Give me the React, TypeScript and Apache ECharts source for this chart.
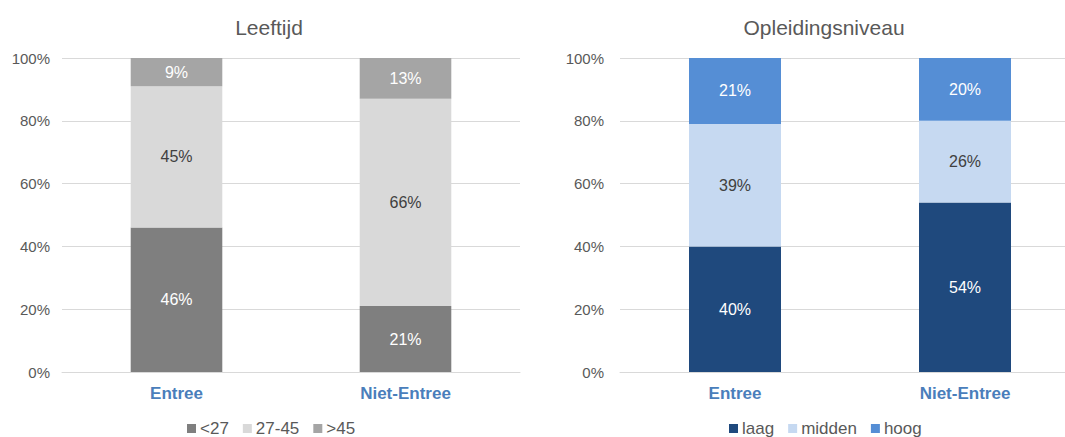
import React, { useEffect, useRef } from "react";
import * as echarts from "echarts";

const categories = ["Entree", "Niet-Entree"];
const yTicks = [0, 20, 40, 60, 80, 100];

const ageNames = ["<27", "27-45", ">45"];
const ageUnder27 = [46, 21];
const age27to45 = [45, 66];
const ageOver45 = [9, 13];

const eduNames = ["laag", "midden", "hoog"];
const eduLaag = [40, 54];
const eduMidden = [39, 26];
const eduHoog = [21, 20];

const ageColors = ["#7f7f7f", "#d9d9d9", "#a5a5a5"];
const eduColors = ["#1f497d", "#c6d9f1", "#558ed5"];
const labelColors = ["#ffffff", "#404040", "#ffffff"];

export default function App() {
  const ref = useRef<HTMLDivElement>(null);
  useEffect(() => {
    if (!ref.current) return;
    const chart = echarts.init(ref.current, null, { renderer: "svg" });
    const font = "'Liberation Sans', Arial, sans-serif";
    const mkX = (gi: number) => ({
      type: "category",
      gridIndex: gi,
      data: categories,
      axisTick: { show: false },
      axisLine: { show: true, lineStyle: { color: "#d9d9d9", width: 1 } },
      axisLabel: {
        color: "#4a7ebb",
        fontWeight: "bold",
        fontSize: 17,
        fontFamily: font,
        margin: 13,
      },
    });
    const mkY = (gi: number) => ({
      type: "value",
      gridIndex: gi,
      min: 0,
      max: 100,
      interval: 20,
      axisLine: { show: false },
      axisTick: { show: false },
      splitLine: { lineStyle: { color: "#d9d9d9", width: 1 } },
      axisLabel: {
        color: "#595959",
        fontSize: 15,
        fontFamily: font,
        margin: gi === 0 ? 12 : 16,
        formatter: (v: number) => (yTicks.includes(v) ? v + "%" : ""),
      },
    });
    const mkSeries = (
      name: string,
      data: number[],
      gi: number,
      color: string,
      labelColor: string
    ) => ({
      type: "bar",
      name,
      data,
      xAxisIndex: gi,
      yAxisIndex: gi,
      stack: "s" + gi,
      barWidth: "40%",
      itemStyle: { color },
      label: {
        show: true,
        position: "inside",
        color: labelColor,
        fontSize: 16,
        fontFamily: font,
        formatter: (p: any) => p.value + "%",
      },
    });
    const legendBase = {
      top: 420,
      padding: 0,
      itemWidth: 9,
      itemHeight: 9,
      itemGap: 14,
      icon: "rect",
      textStyle: { color: "#595959", fontSize: 17, fontFamily: font, padding: [0, 0, 0, -1] },
    };
    const titleStyle = { color: "#595959", fontSize: 21, fontWeight: "normal", fontFamily: font };
    const ageData = [ageUnder27, age27to45, ageOver45];
    const eduData = [eduLaag, eduMidden, eduHoog];
    chart.setOption({
      animation: false,
      title: [
        { text: "Leeftijd", left: 264, top: 12, textAlign: "center", textStyle: titleStyle },
        { text: "Opleidingsniveau", left: 819, top: 12, textAlign: "center", textStyle: titleStyle },
      ],
      legend: [
        { ...legendBase, data: ageNames, left: 187 },
        { ...legendBase, data: eduNames, left: 729 },
      ],
      grid: [
        { left: 62, top: 58, width: 458, height: 314 },
        { left: 620, top: 58, width: 460, height: 314 },
      ],
      xAxis: [mkX(0), mkX(1)],
      yAxis: [mkY(0), mkY(1)],
      series: [
        ...ageNames.map((n, i) => mkSeries(n, ageData[i], 0, ageColors[i], labelColors[i])),
        ...eduNames.map((n, i) => mkSeries(n, eduData[i], 1, eduColors[i], labelColors[i])),
      ],
    });
    return () => chart.dispose();
  }, []);
  return (
    <div
      style={{
        position: "fixed",
        left: 0,
        top: 0,
        width: 1065,
        height: 437,
        overflow: "hidden",
        background: "#fff",
      }}
    >
      <div ref={ref} style={{ width: 1100, height: 437 }} />
    </div>
  );
}
